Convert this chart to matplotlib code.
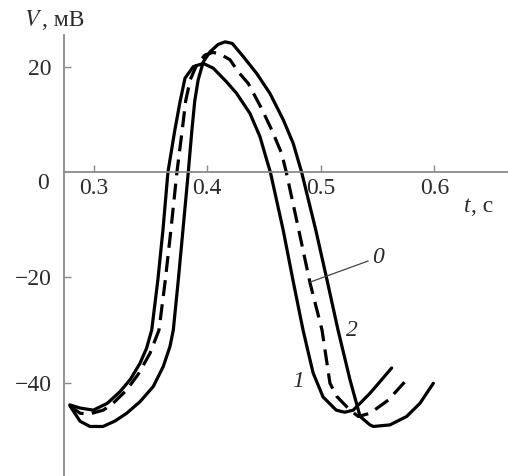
import numpy as np
import matplotlib.pyplot as plt

plt.rcParams['font.family'] = ['Liberation Serif', 'DejaVu Serif']

# кривая 1 (сплошная, левая)
t1 = [0.279, 0.288, 0.2997, 0.312, 0.3232, 0.3325, 0.3408, 0.3465, 0.3511, 0.3565,
      0.361, 0.3654, 0.3715, 0.376, 0.3804, 0.3877, 0.3965, 0.4053, 0.417, 0.4259,
      0.4376, 0.4464, 0.4523, 0.4555, 0.4668, 0.4754, 0.4843, 0.4931, 0.5019, 0.5135,
      0.521, 0.5285, 0.5432, 0.552, 0.5623]
v1 = [-44.2, -44.8, -45.2, -43.9, -41.7, -39.3, -36.3, -33.5, -30.0, -20.5,
      -11.0, 0.0, 8.0, 13.3, 17.8, 20.0, 20.6, 19.7, 17.1, 14.9,
      11.1, 6.7, 2.3, 0.0, -11.0, -20.5, -30.0, -38.1, -42.7, -45.2,
      -45.6, -45.2, -42.0, -39.8, -37.2]

# кривая 0 (штриховая, средняя)
t0 = [0.2792, 0.288, 0.2967, 0.3085, 0.3185, 0.329, 0.3395, 0.3496, 0.3575, 0.3628,
      0.368, 0.3733, 0.378, 0.381, 0.385, 0.391, 0.398, 0.405, 0.4112, 0.42,
      0.4273, 0.4361, 0.4479, 0.4567, 0.4655, 0.4695, 0.4805, 0.4905, 0.501, 0.508,
      0.514, 0.5256, 0.533, 0.5432, 0.5593, 0.5769]
v0 = [-44.4, -45.8, -45.9, -45.2, -43.6, -41.4, -38.3, -34.4, -30.0, -21.0,
      -11.0, 0.0, 8.0, 13.5, 17.5, 20.5, 22.2, 22.7, 22.4, 21.3,
      19.0, 16.8, 12.0, 8.0, 3.5, 0.0, -11.0, -21.1, -30.0, -40.1,
      -42.6, -45.2, -46.4, -45.8, -43.3, -39.1]

# кривая 2 (сплошная, правая)
t2 = [0.2792, 0.288, 0.2967, 0.3082, 0.3185, 0.329, 0.3408, 0.3525, 0.3613, 0.3672,
      0.3701, 0.3745, 0.3786, 0.3833, 0.3865, 0.389, 0.392, 0.3965, 0.4024, 0.4095,
      0.4157, 0.422, 0.4317, 0.4435, 0.4552, 0.4669, 0.4757, 0.483, 0.4955, 0.5054,
      0.5151, 0.5257, 0.5345, 0.5432, 0.5461, 0.5608, 0.5755, 0.5872, 0.599]
v2 = [-44.4, -47.3, -48.3, -48.3, -47.3, -45.8, -43.6, -40.7, -36.9, -33.1,
      -30.0, -20.5, -11.0, 0.0, 8.0, 13.5, 17.5, 20.9, 22.8, 24.2,
      24.7, 24.4, 21.9, 18.7, 14.9, 9.9, 5.4, 0.0, -11.0, -20.5,
      -30.0, -39.5, -46.4, -48.0, -48.3, -48.0, -46.4, -43.9, -40.1]

xticks = [0.3, 0.4, 0.5, 0.6]
yticks = [-40, -20, 20]

grey = '#8a8a8a'
txt = '#2b2b2b'
fs = 17

fig = plt.figure(figsize=(5.08, 4.76), dpi=100)
ax = fig.add_axes([64 / 508, 0.0, 444 / 508, 441 / 476])

ax.plot(t1, v1, color='black', lw=2.3, solid_joinstyle='round', solid_capstyle='round')
ax.plot(t0, v0, color='black', lw=2.3, dashes=(5, 2.6), dash_joinstyle='round')
ax.plot(t2, v2, color='black', lw=2.3, solid_joinstyle='round', solid_capstyle='round')

ax.set_xlim(0.2739, 0.6647)
ax.set_ylim(-57.7, 26.0)

for s in ['top', 'right']:
    ax.spines[s].set_visible(False)
ax.spines['bottom'].set_position(('data', 0))
ax.spines['left'].set_color(grey)
ax.spines['bottom'].set_color(grey)
ax.spines['left'].set_linewidth(1.3)
ax.spines['bottom'].set_linewidth(1.3)

ax.set_xticks(xticks)
ax.set_xticklabels([str(x) for x in xticks])
ax.set_yticks(yticks)
ax.set_yticklabels(['\u2212' + str(-y) if y < 0 else str(y) for y in yticks])
ax.tick_params(direction='in', length=5, width=1.0, color=grey,
               labelsize=fs, labelcolor=txt)
ax.tick_params(axis='x', pad=4)
ax.tick_params(axis='y', pad=9)

# ноль на пересечении осей
ax.annotate('0', xy=(0, 0), xycoords=('axes fraction', 'data'),
            xytext=(-11, -8), textcoords='offset points',
            ha='right', va='center', fontsize=fs, color=txt, annotation_clip=False)

# подписи осей
fig.text(24 / 508, 1 - 20 / 476, '$\\it{V}$', fontsize=fs, color=txt,
         ha='left', va='center', math_fontfamily='stix')
fig.text(42 / 508, 1 - 20 / 476, ', мВ', fontsize=fs, color=txt, ha='left', va='center')
ax.text(0.626, -6.5, 't', fontsize=fs, color=txt, style='italic', ha='left', va='center')
ax.text(0.6325, -6.5, ', с', fontsize=fs, color=txt, ha='left', va='center')

# номера кривых
ax.plot([0.5415, 0.4905], [-16.9, -20.9], color='#444444', lw=0.9)
ax.text(0.5503, -16.3, '0', fontsize=fs, color=txt, style='italic', ha='center', va='center')
ax.text(0.527, -30.0, '2', fontsize=fs, color=txt, style='italic', ha='center', va='center')
ax.text(0.480, -39.8, '1', fontsize=fs, color=txt, style='italic', ha='center', va='center')

fig.savefig('out.png', dpi=100)
